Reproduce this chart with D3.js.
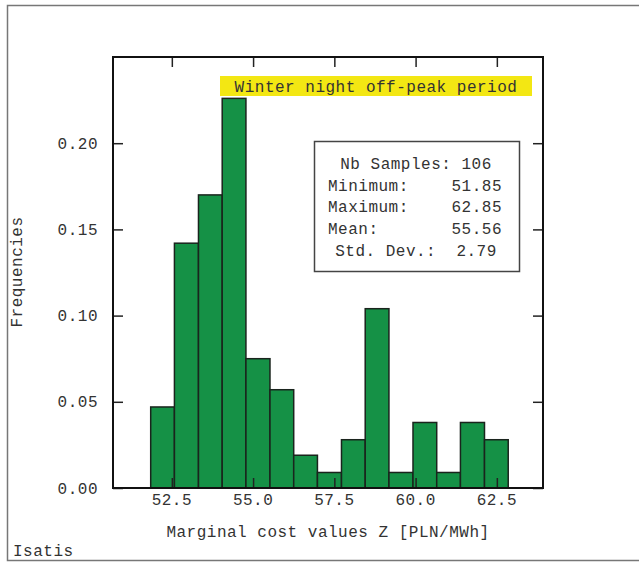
<!DOCTYPE html>
<html>
<head>
<meta charset="utf-8">
<script src="https://cdn.jsdelivr.net/npm/d3@7/dist/d3.min.js"></script>
<style>
  html, body { margin: 0; padding: 0; background: #fff; }
  svg text { font-family: "Courier New", "Liberation Mono", monospace; fill: #333; white-space: pre; }
</style>
</head>
<body>
<svg id="chart" width="639" height="562"></svg>
<script>
// Histogram of marginal cost values (winter night off-peak period)
const binEdges = [51.85, 52.58, 53.32, 54.05, 54.78, 55.52, 56.25, 56.98, 57.72,
                  58.45, 59.18, 59.92, 60.65, 61.38, 62.12, 62.85];
const frequencies = [0.047, 0.142, 0.170, 0.226, 0.075, 0.057, 0.019, 0.009,
                     0.028, 0.104, 0.009, 0.038, 0.009, 0.038, 0.028];
const xTicks = [52.5, 55.0, 57.5, 60.0, 62.5];
const yTicks = [0.00, 0.05, 0.10, 0.15, 0.20];
const statLabels = ["Minimum:", "Maximum:", "Mean:"];
const statValues = ["51.85", "62.85", "55.56"];
const sampleCount = 106;
const stdDev = "2.79";
const periodTitle = "Winter night off-peak period";
const xTitle = "Marginal cost values Z [PLN/MWh]";
const yTitle = "Frequencies";

const svg = d3.select("#chart");
const plot = { left: 113, right: 543, top: 57, bottom: 488 };
const fs = 16, ls = 0.5;

// outer frame (open on the right)
svg.append("path")
  .attr("d", `M639,5.5 H7.5 V560.5 H639`)
  .attr("fill", "none").attr("stroke", "#777").attr("stroke-width", 1.5);

const x = d3.scaleLinear().domain([50.69, 63.92]).range([plot.left, plot.right]);
const y = d3.scaleLinear().domain([0, 0.25]).range([plot.bottom, plot.top]);

const bins = frequencies.map((f, i) => ({ x0: binEdges[i], x1: binEdges[i + 1], f }));

svg.append("g").selectAll("rect").data(bins).join("rect")
  .attr("x", d => x(d.x0))
  .attr("y", d => y(d.f))
  .attr("width", d => x(d.x1) - x(d.x0))
  .attr("height", d => y(0) - y(d.f))
  .attr("fill", "#159146")
  .attr("stroke", "#1a241d")
  .attr("stroke-width", 1.5);

// axes with inward ticks on all four sides
const tickLen = 10;
const axisStyle = g => {
  g.select(".domain").remove();
  g.selectAll(".tick line").attr("stroke", "#222").attr("stroke-width", 1.5);
  g.selectAll("text").remove();
};
svg.append("g").attr("transform", `translate(0,${plot.bottom})`)
  .call(d3.axisTop(x).tickValues(xTicks).tickSize(tickLen)).call(axisStyle);
svg.append("g").attr("transform", `translate(0,${plot.top})`)
  .call(d3.axisBottom(x).tickValues(xTicks).tickSize(tickLen)).call(axisStyle);
svg.append("g").attr("transform", `translate(${plot.left},0)`)
  .call(d3.axisRight(y).tickValues(yTicks).tickSize(tickLen)).call(axisStyle);
svg.append("g").attr("transform", `translate(${plot.right},0)`)
  .call(d3.axisLeft(y).tickValues(yTicks).tickSize(tickLen)).call(axisStyle);

// plot frame
svg.append("rect")
  .attr("x", plot.left).attr("y", plot.top)
  .attr("width", plot.right - plot.left).attr("height", plot.bottom - plot.top)
  .attr("fill", "none").attr("stroke", "#111").attr("stroke-width", 2);

// tick labels
svg.append("g").selectAll("text").data(xTicks).join("text")
  .attr("x", d => x(d)).attr("y", 505)
  .attr("text-anchor", "middle")
  .style("font-size", fs + "px").style("letter-spacing", ls + "px")
  .text(d => d3.format(".1f")(d));
svg.append("g").selectAll("text").data(yTicks).join("text")
  .attr("x", 98).attr("y", d => y(d)).attr("dy", "0.35em")
  .attr("text-anchor", "end")
  .style("font-size", fs + "px").style("letter-spacing", ls + "px")
  .text(d => d3.format(".2f")(d));

// axis titles
svg.append("text")
  .attr("x", (plot.left + plot.right) / 2).attr("y", 537)
  .attr("text-anchor", "middle")
  .style("font-size", fs + "px").style("letter-spacing", ls + "px")
  .text(xTitle);
svg.append("text")
  .attr("transform", `translate(22,272) rotate(-90)`)
  .attr("text-anchor", "middle")
  .style("font-size", fs + "px").style("letter-spacing", ls + "px")
  .text(yTitle);
svg.append("text")
  .attr("x", 13).attr("y", 556)
  .style("font-size", fs + "px").style("letter-spacing", ls + "px")
  .text("Isatis");

// period title on yellow band
svg.append("rect")
  .attr("x", 220).attr("y", 76).attr("width", 312).attr("height", 20)
  .attr("fill", "#f3e713");
svg.append("text")
  .attr("x", 376).attr("y", 86).attr("dy", "0.35em")
  .attr("text-anchor", "middle")
  .style("font-size", fs + "px").style("letter-spacing", ls + "px")
  .text(periodTitle);

// statistics box
svg.append("rect")
  .attr("x", 314.5).attr("y", 141.5).attr("width", 205).attr("height", 130)
  .attr("fill", "#fff").attr("stroke", "#444").attr("stroke-width", 1.5);
const stats = svg.append("g")
  .style("font-size", fs + "px").style("letter-spacing", ls + "px");
stats.append("text")
  .attr("x", 416).attr("y", 163).attr("dy", "0.35em")
  .attr("text-anchor", "middle")
  .text(`Nb Samples: ${sampleCount}`);
statLabels.forEach((lab, i) => {
  const yy = 185 + i * 21.7;
  stats.append("text").attr("x", 328).attr("y", yy).attr("dy", "0.35em").text(lab);
  stats.append("text").attr("x", 502).attr("y", yy).attr("dy", "0.35em")
    .attr("text-anchor", "end").text(statValues[i]);
});
stats.append("text")
  .attr("x", 416).attr("y", 250).attr("dy", "0.35em")
  .attr("text-anchor", "middle")
  .text(`Std. Dev.:  ${stdDev}`);
</script>
</body>
</html>
